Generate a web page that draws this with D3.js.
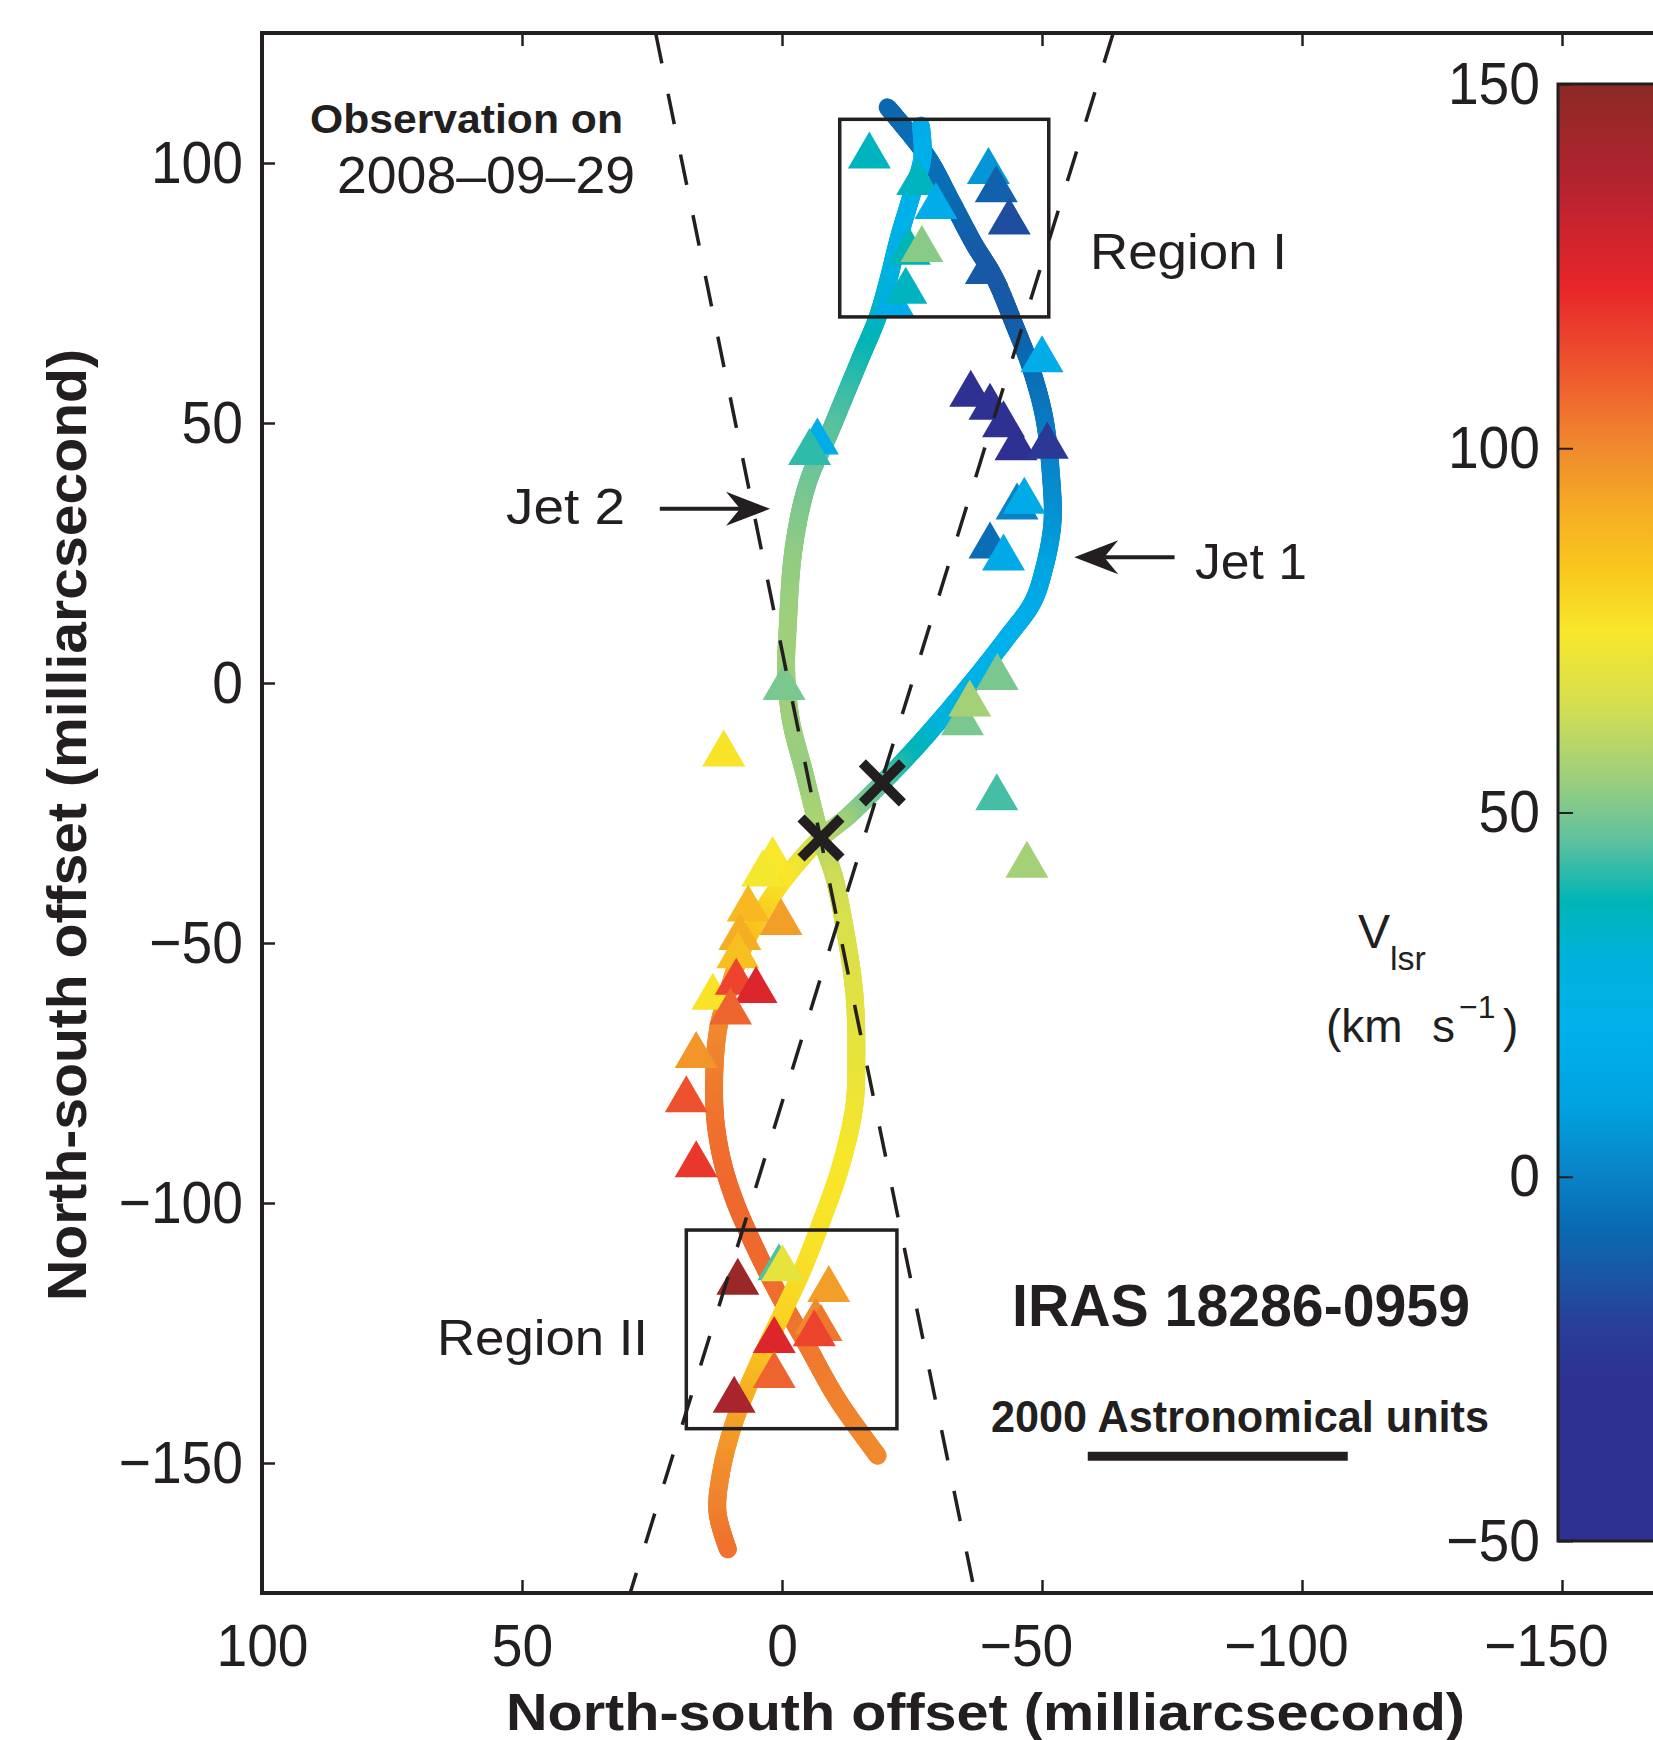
<!DOCTYPE html>
<html>
<head>
<meta charset="utf-8">
<script src="https://cdn.jsdelivr.net/npm/d3@7"></script>
<style>
  body { margin: 0; background: #fff; }
  svg { display: block; }
  text { font-family: "Liberation Sans", Arial, Helvetica, sans-serif; fill: #231f20; }
</style>
</head>
<body>
<svg id="chart" width="1653" height="1740"></svg>
<script>
// ---- axis ticks ----
const xTicks = [100, 50, 0, -50, -100, -150];
const yTicks = [100, 50, 0, -50, -100, -150];
const cbTicks = [150, 100, 50, 0, -50];

// ---- velocity colour map (km/s -> colour) ----
const colorStopValues = [-50, -28, -20, -14, -7, 0, 10, 20, 30, 38, 46, 55, 65, 75, 83, 90, 100, 110, 122, 136, 150];
const colorStopColors = ["#2e3192", "#2e3192", "#283f99", "#1b55a4", "#0a6ab2", "#0a82c6", "#00a3e0", "#00b0eb",
  "#00b2db", "#00b5b5", "#5dc19f", "#9fcf7b", "#d5df4f", "#f8e72a", "#f9c81e", "#f6b222", "#f08a2e",
  "#ee5a2e", "#e8262b", "#b52330", "#8b2a25"];

// ---- precessing jet model: [RA offset, Dec offset, Vlsr] ----
const jet1 = [
  [-20.3, 110.7, -8], [-28.0, 101.1, -5], [-32.5, 92.8, -6], [-36.9, 84.5, -11], [-40.8, 78.1, -13],
  [-44.6, 69.1, -12], [-47.8, 60.8, -7], [-50.4, 51.2, -3], [-51.7, 40.3, 1], [-52.0, 30.7, 5],
  [-50.4, 22.0, 10], [-48.2, 15.5, 15], [-43.4, 8.9, 20], [-36.9, 0.6, 23], [-29.3, -8.4, 30],
  [-24.1, -14.2, 38], [-19.3, -19.2, 45], [-12.6, -25.7, 53], [-7.5, -29.8, 60], [-2.4, -35.3, 72],
  [1.5, -40.4, 77], [4.7, -45.5, 82], [7.9, -51.9, 88], [10.4, -59.6, 94], [12.4, -67.3, 100],
  [13.0, -81.4, 104], [11.7, -91.0, 106], [9.2, -99.3, 107], [5.3, -108.3, 107], [0.8, -117.3, 106],
  [-4.9, -127.5, 104], [-10.7, -137.8, 102], [-18.4, -148.6, 100]
];
const jet2 = [
  [-26.7, 107.2, 17], [-27.0, 101.1, 19], [-24.8, 93.4, 21], [-22.5, 85.7, 23], [-20.6, 78.1, 27],
  [-18.4, 70.4, 34], [-15.2, 62.7, 39], [-12.0, 55.0, 43], [-8.8, 47.3, 46], [-5.6, 40.3, 48],
  [-3.7, 33.9, 50], [-2.0, 24.0, 53], [-1.1, 10.8, 55], [-0.8, 2.5, 55], [-1.7, -7.1, 55],
  [-4.3, -17.3, 54], [-7.5, -29.8, 58], [-10.0, -37.2, 63], [-12.0, -46.8, 66], [-13.9, -59.6, 68],
  [-14.3, -72.0, 70], [-13.9, -81.4, 72], [-11.3, -92.9, 75], [-7.5, -103.8, 76], [-3.7, -113.4, 77],
  [0.8, -123.0, 80], [5.3, -132.6, 87], [9.2, -142.2, 94], [11.7, -151.8, 99], [12.4, -159.5, 102],
  [10.4, -166.6, 105]
];

// ---- H2O maser spots: [RA offset, Dec offset, Vlsr] ----
const masers = [
  [-16.8, 102.5, 36], [-26.1, 97.4, 36], [-29.6, 92.8, 18], [-39.7, 99.5, 6], [-41.2, 96.0, -10],
  [-43.7, 89.8, -16], [-24.5, 84.0, 38], [-26.9, 84.5, 52], [-21.4, 73.9, 18], [-23.8, 76.5, 36],
  [-39.3, 80.3, -13],
  [-50.0, 63.3, 18], [-36.3, 56.7, -36], [-40.0, 54.2, -38], [-42.6, 50.8, -36], [-45.0, 46.4, -40],
  [-51.0, 46.7, -24], [-45.2, 35.0, 0], [-46.6, 36.1, 16], [-40.0, 27.5, -6], [-42.6, 25.2, 15],
  [-6.8, 47.5, 18], [-5.3, 45.5, 42], [-0.4, 0.3, 50], [11.2, -12.5, 76],
  [-41.4, 2.2, 50], [-34.7, -6.5, 50], [-36.1, -2.9, 56], [-41.3, -20.9, 44], [-47.1, -33.9, 56],
  [1.8, -33.0, 75], [3.7, -35.6, 74], [6.5, -42.3, 88], [0.2, -44.9, 95], [8.1, -47.8, 91],
  [8.5, -51.3, 86], [13.3, -59.3, 76], [8.8, -56.4, 115], [5.0, -58.0, 125], [9.9, -62.1, 108],
  [16.5, -70.5, 97], [18.4, -79.0, 112], [16.5, -91.5, 118],
  [8.5, -114.1, 145], [0.6, -111.3, 45], [-0.1, -111.5, 70], [-9.0, -115.5, 95], [-6.5, -121.7, 100],
  [-7.5, -123.0, 104], [-6.2, -124.0, 115], [1.5, -125.3, 125], [1.5, -132.0, 108], [9.2, -136.8, 140]
];

// ---- driving-source positions and jet-axis cones ----
const sources = [[-19.3, -19.2], [-7.5, -29.8]];
const coneLines = [
  [[24.3, 125], [-37.1, -175]],
  [[-63.7, 125], [29.2, -175]]
];
const regions = [
  { name: "Region I", x0: -11.1, x1: -51.3, y0: 70.4, y1: 108.4 },
  { name: "Region II", x0: 18.4, x1: -22.1, y0: -143.4, y1: -105.2 }
];

// ================= drawing =================
const ink = "#231f20";
const svg = d3.select("#chart");
const defs = svg.append("defs");
const unit = 5.2;
const plotLeft = 262, plotTop = 33;

const x = d3.scaleLinear().domain([100, -175]).range([plotLeft, plotLeft + 275 * unit]);
const y = d3.scaleLinear().domain([125, -175]).range([plotTop, plotTop + 300 * unit]);
const color = d3.scaleLinear().domain(colorStopValues).range(colorStopColors)
  .interpolate(d3.interpolateRgb).clamp(true);
const minusFmt = d => d < 0 ? "\u2212" + Math.abs(d) : String(d);

const pw = x(-175) - x(100), ph = y(-175) - y(125);
defs.append("clipPath").attr("id", "plotClip")
  .append("rect").attr("x", x(100)).attr("y", y(125)).attr("width", pw).attr("height", ph);

const gPlot = svg.append("g").attr("clip-path", "url(#plotClip)");

// jets drawn as short colour-coded pieces along a smooth curve
function drawJet(points) {
  const gen = d3.line().x(d => x(d[0])).y(d => y(d[1])).curve(d3.curveCatmullRom.alpha(0.5));
  const guide = gPlot.append("path").attr("d", gen(points)).attr("fill", "none");
  const node = guide.node();
  const total = node.getTotalLength();
  const px = points.map(p => [x(p[0]), y(p[1])]);
  const cum = [0];
  for (let i = 1; i < px.length; i++) {
    cum.push(cum[i - 1] + Math.hypot(px[i][0] - px[i - 1][0], px[i][1] - px[i - 1][1]));
  }
  const last = cum[cum.length - 1];
  const vAt = d3.scaleLinear().domain(cum.map(c => c / last * total)).range(points.map(p => p[2]));
  const g = gPlot.append("g").attr("stroke-width", 18).attr("stroke-linecap", "round");
  const step = 2;
  for (let s = 0; s < total; s += step) {
    const a = node.getPointAtLength(s);
    const b = node.getPointAtLength(Math.min(s + step, total));
    g.append("line")
      .attr("x1", a.x).attr("y1", a.y).attr("x2", b.x).attr("y2", b.y)
      .attr("stroke", color(vAt(Math.min(s + step / 2, total))));
  }
  guide.remove();
}
drawJet(jet1);
drawJet(jet2);

// maser spots as upward triangles
const triW = 43, triH = 37;
const triPath = `M0,${-triH / 2}L${triW / 2},${triH / 2}L${-triW / 2},${triH / 2}Z`;
gPlot.append("g").selectAll("path").data(masers).join("path")
  .attr("d", triPath)
  .attr("transform", d => `translate(${x(d[0])},${y(d[1])})`)
  .attr("fill", d => color(d[2]));

// dashed cone lines
gPlot.append("g").selectAll("line").data(coneLines).join("line")
  .attr("x1", d => x(d[0][0])).attr("y1", d => y(d[0][1]))
  .attr("x2", d => x(d[1][0])).attr("y2", d => y(d[1][1]))
  .attr("stroke", ink).attr("stroke-width", 3.5).attr("stroke-dasharray", "31 31");

// region boxes
gPlot.append("g").selectAll("rect").data(regions).join("rect")
  .attr("x", d => x(d.x0)).attr("y", d => y(d.y1))
  .attr("width", d => x(d.x1) - x(d.x0)).attr("height", d => y(d.y0) - y(d.y1))
  .attr("fill", "none").attr("stroke", ink).attr("stroke-width", 3.5);

// source positions (crosses)
const cross = gPlot.append("g").attr("stroke", ink).attr("stroke-width", 10);
sources.forEach(s => {
  const cx = x(s[0]), cy0 = y(s[1]), r = 20;
  cross.append("line").attr("x1", cx - r).attr("y1", cy0 - r).attr("x2", cx + r).attr("y2", cy0 + r);
  cross.append("line").attr("x1", cx - r).attr("y1", cy0 + r).attr("x2", cx + r).attr("y2", cy0 - r);
});

// ---- axes ----
const axisFont = 60, squeeze = 0.92;
function styleTickText(sel) {
  sel.attr("font-size", axisFont).attr("font-family", null).attr("fill", ink)
    .each(function () {
      const len = this.getComputedTextLength();
      d3.select(this).attr("textLength", len * squeeze).attr("lengthAdjust", "spacingAndGlyphs");
    });
}
const gBottom = svg.append("g").attr("transform", `translate(0,${y(-175)})`)
  .call(d3.axisBottom(x).tickValues(xTicks).tickSize(-13).tickSizeOuter(0).tickPadding(30).tickFormat(minusFmt));
const gTop = svg.append("g").attr("transform", `translate(0,${y(125)})`)
  .call(d3.axisTop(x).tickValues(xTicks).tickSize(-13).tickSizeOuter(0).tickFormat(""));
const gLeft = svg.append("g").attr("transform", `translate(${x(100)},0)`)
  .call(d3.axisLeft(y).tickValues(yTicks).tickSize(-13).tickSizeOuter(0).tickPadding(19).tickFormat(minusFmt));
[gBottom, gTop, gLeft].forEach(g => {
  g.select(".domain").remove();
  g.selectAll(".tick line").attr("stroke", ink).attr("stroke-width", 2.5);
  styleTickText(g.selectAll("text"));
});
// keep the digits centred on the tick, the minus sign hangs out to the left
gBottom.selectAll(".tick text").attr("dx", d => d < 0 ? -0.29 * squeeze * axisFont : 0);

// plot frame
svg.append("rect").attr("x", x(100)).attr("y", y(125)).attr("width", pw).attr("height", ph)
  .attr("fill", "none").attr("stroke", ink).attr("stroke-width", 4);

// ---- colour bar ----
const cbY = d3.scaleLinear().domain([150, -50]).range([84, 1541]);
const cbX = 1558, cbW = 150;
const grad = defs.append("linearGradient").attr("id", "vlsrGrad")
  .attr("gradientUnits", "userSpaceOnUse")
  .attr("x1", 0).attr("x2", 0).attr("y1", cbY(150)).attr("y2", cbY(-50));
const stops = colorStopValues.map((v, i) => ({ v, c: colorStopColors[i] })).reverse();
grad.selectAll("stop").data(stops).join("stop")
  .attr("offset", d => (cbY(d.v) - cbY(150)) / (cbY(-50) - cbY(150)))
  .attr("stop-color", d => d.c);
svg.append("rect").attr("x", cbX).attr("y", cbY(150)).attr("width", cbW).attr("height", cbY(-50) - cbY(150))
  .attr("fill", "url(#vlsrGrad)").attr("stroke", ink).attr("stroke-width", 3);
const gCb = svg.append("g").attr("transform", `translate(${cbX},0)`)
  .call(d3.axisLeft(cbY).tickValues(cbTicks).tickSize(-15).tickSizeOuter(0).tickPadding(18).tickFormat(minusFmt));
gCb.select(".domain").remove();
gCb.selectAll(".tick line").attr("stroke", ink).attr("stroke-width", 2);
styleTickText(gCb.selectAll("text"));

// colour bar title
const vl = svg.append("text").attr("x", 1358).attr("y", 948).attr("font-size", 48);
vl.append("tspan").text("V");
vl.append("tspan").attr("font-size", 34).attr("dy", 22).text("lsr");
const unitsLbl = svg.append("text").attr("y", 1042).attr("font-size", 46);
unitsLbl.append("tspan").attr("x", 1326).text("(km");
unitsLbl.append("tspan").attr("x", 1432).text("s");
unitsLbl.append("tspan").attr("x", 1459).attr("dy", -24).attr("font-size", 32).text("\u22121");
unitsLbl.append("tspan").attr("x", 1503).attr("dy", 24).text(")");

// ---- axis titles ----
svg.append("text").attr("x", 506).attr("y", 1730).attr("font-size", 52).attr("font-weight", "bold")
  .attr("textLength", 959).attr("lengthAdjust", "spacingAndGlyphs")
  .text("North-south offset (milliarcsecond)");
svg.append("text").attr("transform", "translate(86,825) rotate(-90)").attr("text-anchor", "middle")
  .attr("font-size", 55).attr("font-weight", "bold")
  .attr("textLength", 952).attr("lengthAdjust", "spacingAndGlyphs")
  .text("North-south offset (milliarcsecond)");

// ---- annotations ----
function label(txt, px, py, size, len, bold) {
  return svg.append("text").attr("x", px).attr("y", py).attr("font-size", size)
    .attr("font-weight", bold ? "bold" : null)
    .attr("textLength", len).attr("lengthAdjust", "spacingAndGlyphs").text(txt);
}
label("Observation on", 310, 133, 40, 313, true);
label("2008\u201309\u201329", 337, 193, 52, 298, false);
label("Jet 2", 506, 524, 50, 119, false);
label("Jet 1", 1195, 579, 50, 112, false);
label("Region I", 1090, 269, 50, 197, false);
label("Region II", 437, 1355, 50, 211, false);
label("IRAS 18286-0959", 1012, 1326, 59, 458, true);
label("2000 Astronomical units", 991, 1432, 44, 498, true);

// scale bar: 50 mas
svg.append("line").attr("x1", x(-58.8)).attr("x2", x(-108.8)).attr("y1", y(-148.7)).attr("y2", y(-148.7))
  .attr("stroke", ink).attr("stroke-width", 9);

// arrows pointing at the two jets
function arrow(fromX, toX, atY) {
  const x0 = x(fromX), x1 = x(toX), yy = y(atY);
  const dir = Math.sign(x1 - x0);
  const len = 44, half = 17, notch = 30;
  svg.append("line").attr("x1", x0).attr("y1", yy).attr("x2", x1 - dir * notch).attr("y2", yy)
    .attr("stroke", ink).attr("stroke-width", 4);
  const p = d3.path();
  p.moveTo(x1, yy);
  p.lineTo(x1 - dir * len, yy - half);
  p.lineTo(x1 - dir * notch, yy);
  p.lineTo(x1 - dir * len, yy + half);
  p.closePath();
  svg.append("path").attr("d", p.toString()).attr("fill", ink);
}
arrow(23.5, 2.3, 33.5);
arrow(-75.5, -56.2, 24.2);
</script>
</body>
</html>
